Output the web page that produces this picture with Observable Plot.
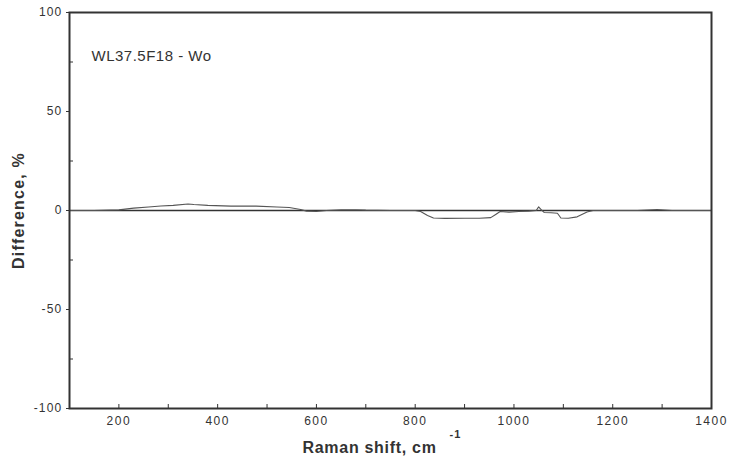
<!DOCTYPE html>
<html>
<head>
<meta charset="utf-8">
<script src="https://cdn.jsdelivr.net/npm/d3@7"></script>
<script src="https://cdn.jsdelivr.net/npm/@observablehq/plot@0.6"></script>
<style>
  body { margin: 0; background: #fff; }
  #chart svg { display: block; }
  #chart g[aria-label="x-axis tick label"] text { letter-spacing: 1.5px; }
  #chart g[aria-label="y-axis tick label"] text { letter-spacing: 1.2px; }
</style>
</head>
<body>
<div id="chart"></div>
<script>
// Raman shift (cm^-1) and difference (%)
const shift = [100, 150, 200, 230, 260, 285, 310, 340, 352, 380, 427, 478, 520, 545, 568, 580, 600, 620, 650, 680, 700, 750, 800, 811, 825, 837, 860, 900, 930, 953, 963, 972, 990, 1010, 1030, 1045, 1050, 1055, 1061, 1075, 1088, 1095, 1110, 1128, 1148, 1160, 1200, 1250, 1290, 1320, 1400];
const difference = [0, 0, 0.3, 1.2, 1.8, 2.3, 2.6, 3.3, 3.0, 2.6, 2.2, 2.2, 1.8, 1.5, 0.5, -0.3, -0.5, 0, 0.3, 0.4, 0.2, 0, 0, -0.5, -2.5, -3.8, -4, -3.9, -3.9, -3.6, -2, -0.5, -0.8, -0.5, -0.3, 0, 1.8, 0.5, -1, -1.1, -1.4, -3.8, -3.9, -3.2, -0.8, 0, 0, 0, 0.5, 0, 0];

const xLabelTicks = [200, 400, 600, 800, 1000, 1200, 1400];
const xMinorTicks = [200, 300, 400, 500, 600, 700, 800, 900, 1000, 1100, 1200, 1300];
const yLabelTicks = [-100, -50, 0, 50, 100];
const yMinorTicks = [-75, -25, 25, 75];

const sampleName = "WL37.5F18 - Wo";
const xTitle = "Raman shift, cm";
const xTitleSup = "-1";
const yTitle = "Difference, %";

const data = shift.map((s, i) => ({shift: s, diff: difference[i]}));

const W = 729, H = 464;
const mL = 69, mR = 18, mT = 12, mB = 56;
const plotW = W - mL - mR, plotH = H - mT - mB;
const ink = "#333";
const font = "'Liberation Sans', Arial, Helvetica, sans-serif";

const chart = Plot.plot({
  width: W,
  height: H,
  marginLeft: mL,
  marginRight: mR,
  marginTop: mT,
  marginBottom: mB,
  style: {fontFamily: font, color: ink, background: "#fff"},
  x: {domain: [100, 1400]},
  y: {domain: [-100, 100]},
  marks: [
    Plot.ruleY([0], {stroke: ink, strokeWidth: 1.4}),
    Plot.line(data, {x: "shift", y: "diff", stroke: "#555", strokeWidth: 1.1}),
    Plot.ruleX(xMinorTicks, {x: d => d, insetTop: plotH - 4, stroke: ink, strokeWidth: 1}),
    Plot.ruleY(yMinorTicks, {y: d => d, insetRight: plotW - 4, stroke: ink, strokeWidth: 1}),
    Plot.axisX({ticks: xLabelTicks, tickFormat: d => String(d), tickSize: 0, tickPadding: 8, fontSize: 12, label: null, fill: ink}),
    Plot.axisY({ticks: yLabelTicks, tickFormat: d => d < 0 ? "-" + Math.abs(d) : String(d), tickSize: 3, tickPadding: 4, fontSize: 12, label: null, fill: ink}),
    Plot.frame({stroke: ink, strokeWidth: 2}),
    Plot.text([sampleName], {frameAnchor: "top-left", dx: 22, dy: 38, textAnchor: "start", fontSize: 15, fill: ink}),
    Plot.text([xTitle], {frameAnchor: "bottom-left", dx: 233, dy: 44, textAnchor: "start", lineAnchor: "bottom", fontSize: 16, fontWeight: "bold", fill: ink}),
    Plot.text([xTitleSup], {frameAnchor: "bottom-left", dx: 380, dy: 29, textAnchor: "start", lineAnchor: "bottom", fontSize: 11, fontWeight: "bold", fill: ink}),
    Plot.text([yTitle], {frameAnchor: "left", dx: -51, dy: 0, rotate: -90, textAnchor: "middle", fontSize: 16, fontWeight: "bold", fill: ink})
  ]
});

// letter spacing to match the wide lettering of the original
const spacing = new Map([[sampleName, "0.5px"], [xTitle, "0.7px"], [xTitleSup, "1px"], [yTitle, "1.2px"]]);
d3.select(chart).selectAll("text").each(function() {
  const s = spacing.get(this.textContent);
  if (s) this.style.letterSpacing = s;
});

document.getElementById("chart").appendChild(chart);
</script>
</body>
</html>
